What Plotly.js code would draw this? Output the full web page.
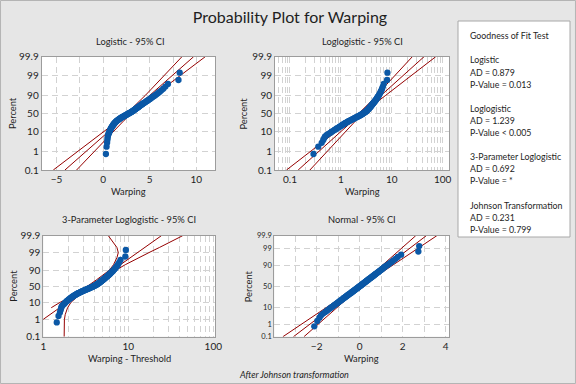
<!DOCTYPE html>
<html><head><meta charset="utf-8">
<script src="https://cdn.plot.ly/plotly-3.0.1.min.js"></script>
<style>html,body{margin:0;padding:0;background:#e6e6e6;}#chart{width:576px;height:384px;}</style>
</head><body><div id="chart"></div>
<script>
// ---- data ----
const warping = [0.29,0.36,0.42,0.45,0.47,0.49,0.53,0.58,0.63,0.66,
0.71,0.75,0.80,0.83,0.87,0.92,0.95,1.00,1.04,1.07,
1.11,1.16,1.19,1.24,1.28,1.33,1.37,1.42,1.47,1.52,
1.58,1.63,1.69,1.74,1.80,1.86,1.91,1.97,2.04,2.10,
2.17,2.23,2.29,2.36,2.42,2.48,2.55,2.61,2.67,2.73,
2.79,2.85,2.92,2.98,3.03,3.09,3.14,3.19,3.25,3.30,
3.35,3.40,3.45,3.50,3.55,3.61,3.66,3.71,3.77,3.83,
3.88,3.94,4.00,4.06,4.12,4.19,4.26,4.33,4.41,4.49,
4.57,4.65,4.74,4.83,4.92,5.02,5.12,5.23,5.35,5.48,
5.62,5.76,5.91,6.07,6.25,6.45,6.68,6.95,8.08,8.21];
const percent = [0.70,1.69,2.69,3.69,4.68,5.68,6.67,7.67,8.67,9.66,
10.66,11.65,12.65,13.65,14.64,15.64,16.63,17.63,18.63,19.62,
20.62,21.61,22.61,23.61,24.60,25.60,26.59,27.59,28.59,29.58,
30.58,31.57,32.57,33.57,34.56,35.56,36.55,37.55,38.55,39.54,
40.54,41.53,42.53,43.53,44.52,45.52,46.51,47.51,48.51,49.50,
50.50,51.49,52.49,53.49,54.48,55.48,56.47,57.47,58.47,59.46,
60.46,61.45,62.45,63.45,64.44,65.44,66.43,67.43,68.43,69.42,
70.42,71.41,72.41,73.41,74.40,75.40,76.39,77.39,78.39,79.38,
80.38,81.37,82.37,83.37,84.36,85.36,86.35,87.35,88.35,89.34,
90.34,91.33,92.33,93.33,94.32,95.32,96.31,97.31,98.31,99.30];
const threshold = -1.15;
const johnson = [-2.11,-1.97,-1.87,-1.80,-1.70,-1.60,-1.52,-1.45,-1.38,-1.32,
-1.26,-1.21,-1.16,-1.11,-1.06,-1.02,-0.98,-0.94,-0.90,-0.86,
-0.82,-0.79,-0.76,-0.73,-0.69,-0.66,-0.63,-0.60,-0.57,-0.54,
-0.51,-0.48,-0.45,-0.42,-0.39,-0.37,-0.34,-0.31,-0.29,-0.26,
-0.24,-0.21,-0.18,-0.16,-0.13,-0.11,-0.08,-0.06,-0.03,-0.01,
0.02,0.05,0.07,0.10,0.12,0.14,0.17,0.19,0.22,0.24,
0.27,0.30,0.32,0.34,0.37,0.40,0.43,0.45,0.48,0.51,
0.54,0.57,0.60,0.63,0.66,0.69,0.72,0.75,0.78,0.82,
0.86,0.89,0.93,0.97,1.01,1.05,1.09,1.13,1.18,1.24,
1.30,1.36,1.43,1.50,1.58,1.67,1.77,1.93,2.73,2.77];

// fitted line and 95% CI, at these percents
const ciPercent = [0.1,0.5,1,2,5,10,20,30,50,70,80,90,95,97,98,99,99.5,99.9];
const logisticFit   = [-4.106,-2.493,-1.795,-1.092,-0.144,0.603,1.414,1.953,2.8,3.647,4.186,4.997,5.744,6.276,6.692,7.395,8.093,9.706];
const logisticLower = [-5.356,-3.473,-2.655,-1.832,-0.734,0.133,1.054,1.653,2.54,3.347,3.826,4.527,5.154,5.606,5.952,6.535,7.113,8.456];
const logisticUpper = [-2.856,-1.513,-0.935,-0.352,0.446,1.073,1.774,2.253,3.06,3.947,4.546,5.467,6.334,6.946,7.432,8.255,9.073,10.956];
const loglogFit   = [0.145,0.2825,0.376,0.502,0.743,1.012,1.413,1.762,2.500,3.548,4.426,6.18,8.414,10.47,12.45,16.6,22.13,43.05];
const loglogLower = [0.0855,0.1866,0.260,0.364,0.577,0.822,1.216,1.560,2.254,3.141,3.811,5.023,6.531,7.852,9.016,11.48,14.62,25.35];
const loglogUpper = [0.2466,0.4276,0.5433,0.6934,0.9572,1.245,1.641,1.991,2.773,4.009,5.140,7.603,10.84,13.96,17.18,23.99,33.50,73.11];
const threeFit   = [0.514,0.807,0.982,1.194,1.556,1.918,2.41,2.80,3.55,4.50,5.23,6.56,8.09,9.38,10.5,12.8,15.6,24.5];
const threeLower = [null,null,null,null,1.24,1.58,2.2,2.6,3.3,4.2,4.85,6.0,6.7,7.05,7.35,7.62,7.35,5.82];
const threeUpper = [1.76,1.76,1.77,1.81,1.93,2.12,2.55,3.02,3.85,4.9,5.69,7.16,9.22,11.5,13.5,17.5,23.2,43.6];
const normalFit   = [-3.08,-2.566,-2.316,-2.044,-1.635,-1.272,-0.832,-0.514,0.01,0.534,0.852,1.292,1.655,1.891,2.064,2.336,2.586,3.10];
const normalLower = [-3.57,-2.976,-2.691,-2.384,-1.915,-1.507,-1.012,-0.669,-0.13,0.379,0.672,1.057,1.375,1.576,1.724,1.961,2.176,2.61];
const normalUpper = [-2.59,-2.156,-1.941,-1.704,-1.355,-1.037,-0.652,-0.359,0.15,0.689,1.032,1.527,1.935,2.206,2.404,2.711,2.996,3.59];

const tickPercents = [0.1,1,10,50,90,99,99.9];
const tickLabels = ['0.1','1','10','50','90','99','99.9'];
const gofLines = ['Goodness of Fit Test','','Logistic','AD = 0.879','P-Value = 0.013','',
 'Loglogistic','AD = 1.239','P-Value &lt; 0.005','','3-Parameter Loglogistic','AD = 0.692','P-Value = *','',
 'Johnson Transformation','AD = 0.231','P-Value = 0.799'];

// ---- probability scale transforms ----
function logit(pp){const p=pp/100;return Math.log(p/(1-p));}
function probit(pp){
 const p=pp/100;
 const a=[-3.969683028665376e+01,2.209460984245205e+02,-2.759285104469687e+02,1.383577518672690e+02,-3.066479806614716e+01,2.506628277459239e+00];
 const b=[-5.447609879822406e+01,1.615858368580409e+02,-1.556989798598866e+02,6.680131188771972e+01,-1.328068155288572e+01];
 const c=[-7.784894002430293e-03,-3.223964580411365e-01,-2.400758277161838e+00,-2.549732539343734e+00,4.374664141464968e+00,2.938163982698783e+00];
 const d=[7.784695709041462e-03,3.224671290700398e-01,2.445134137142996e+00,3.754408661907416e+00];
 const pl=0.02425;let q,r;
 if(p<pl){q=Math.sqrt(-2*Math.log(p));return (((((c[0]*q+c[1])*q+c[2])*q+c[3])*q+c[4])*q+c[5])/((((d[0]*q+d[1])*q+d[2])*q+d[3])*q+1);}
 if(p>1-pl){q=Math.sqrt(-2*Math.log(1-p));return -(((((c[0]*q+c[1])*q+c[2])*q+c[3])*q+c[4])*q+c[5])/((((d[0]*q+d[1])*q+d[2])*q+d[3])*q+1);}
 q=p-0.5;r=q*q;return (((((a[0]*r+a[1])*r+a[2])*r+a[3])*r+a[4])*r+a[5])*q/(((((b[0]*r+b[1])*r+b[2])*r+b[3])*r+b[4])*r+1);
}

const W=576,H=384;
const FONT='Lato, "Open Sans", sans-serif';
const TXT='#1e1e1e';
const RED='#950000';
const BLUE='#0b58a6';
const GRID='#d2d2d2';

function lines(xs, tf, xa, ya){
  const yv = ciPercent.map(tf);
  return xs.map(x=>({type:'scatter',mode:'lines',x:x,y:yv,xaxis:xa,yaxis:ya,
    line:{color:RED,width:1},hoverinfo:'skip',showlegend:false}));
}
function pts(x, tf, xa, ya){
  return {type:'scatter',mode:'markers',x:x,y:percent.map(tf),xaxis:xa,yaxis:ya,
    marker:{color:BLUE,size:6.3,line:{width:0}},showlegend:false};
}
const traces = [].concat(
  lines([logisticLower,logisticFit,logisticUpper],logit,'x','y'),
  [pts(warping,logit,'x','y')],
  lines([loglogLower,loglogFit,loglogUpper],logit,'x2','y2'),
  [pts(warping,logit,'x2','y2')],
  lines([threeLower,threeFit,threeUpper],logit,'x3','y3'),
  [pts(warping.map(v=>v-threshold),logit,'x3','y3')],
  lines([normalLower,normalFit,normalUpper],probit,'x4','y4'),
  [pts(johnson,probit,'x4','y4')]
);

function px(x){return x/W;} function py(y){return 1-y/H;}
const gridCommon = {showgrid:true,gridcolor:GRID,griddash:'6px,4px',gridwidth:1,zeroline:false,
  showline:true,mirror:true,linecolor:'#9c9c9c',linewidth:1,ticks:'',
  tickfont:{family:FONT,size:10,color:TXT},fixedrange:true};
function yax(domain, tf, anchor, fs){
  return Object.assign({},gridCommon,{domain:domain,anchor:anchor,
    range:[tf(0.1),tf(99.9)],tickmode:'array',tickvals:tickPercents.map(tf),ticktext:tickLabels,
    tickfont:{family:FONT,size:fs,color:TXT}});
}
const minorLin = d=>({dtick:d,showgrid:true,gridcolor:GRID,griddash:'6px,4px',ticks:''});
const minorLog = {dtick:'D1',showgrid:true,gridcolor:GRID,griddash:'6px,4px',ticks:''};

const layout = {
  width:W,height:H,margin:{l:0,r:0,t:0,b:0},
  paper_bgcolor:'#e6e6e6',plot_bgcolor:'#ffffff',showlegend:false,
  font:{family:FONT,color:TXT},
  title:{text:'Probability Plot for Warping',x:px(290),xanchor:'center',y:py(17),yanchor:'middle',
    font:{family:FONT,size:16,color:TXT}},
  xaxis: Object.assign({},gridCommon,{domain:[px(41.7),px(215)],anchor:'y',range:[-6.6,12],
    tick0:0,dtick:5,minor:minorLin(2.5)}),
  yaxis: yax([py(170),py(56.7)],logit,'x',10),
  xaxis2: Object.assign({},gridCommon,{domain:[px(275),px(449.3)],anchor:'y2',type:'log',range:[-1.294,2.13],
    tick0:0,dtick:1,minor:minorLog}),
  yaxis2: yax([py(170),py(56.7)],logit,'x2',10),
  xaxis3: Object.assign({},gridCommon,{domain:[px(43.3),px(215)],anchor:'y3',type:'log',range:[0,2.02],
    tick0:0,dtick:1,minor:minorLog}),
  yaxis3: yax([py(336.7),py(235.7)],logit,'x3',10),
  xaxis4: Object.assign({},gridCommon,{domain:[px(274.3),px(449.3)],anchor:'y4',range:[-3.97,4.17],
    tick0:0,dtick:2,minor:minorLin(1)}),
  yaxis4: yax([py(336.7),py(235.7)],probit,'x4',7.5),
  shapes:[
    {type:'rect',xref:'paper',yref:'paper',x0:px(458),x1:px(570),y0:py(237),y1:py(21),
     fillcolor:'#ffffff',line:{color:'#a8a8a8',width:1},layer:'below'},
    {type:'rect',xref:'paper',yref:'paper',x0:0.0009,x1:0.9991,y0:0.0013,y1:0.9987,
     fillcolor:'rgba(0,0,0,0)',line:{color:'#b4b4b4',width:1}}
  ],
  annotations:[]
};
function ann(text,x,y,o){
  layout.annotations.push(Object.assign({text:text,xref:'paper',yref:'paper',x:px(x),y:py(y),
    xanchor:'center',yanchor:'middle',showarrow:false,font:{family:FONT,size:9.3,color:TXT}},o||{}));
}
ann('Logistic - 95% CI',130,41);
ann('Loglogistic - 95% CI',362.5,41);
ann('3-Parameter Loglogistic - 95% CI',129,219);
ann('Normal - 95% CI',361.7,219);
ann('Warping',128.3,191.5);
ann('Warping',362,191.5);
ann('Warping - Threshold',129,358.3);
ann('Warping',361.7,358.3);
ann('Percent',12.7,113.3,{textangle:-90});
ann('Percent',243.3,113.3,{textangle:-90});
ann('Percent',12.7,286,{textangle:-90});
ann('Percent',248.3,286,{textangle:-90});
ann('<i>After Johnson transformation</i>',236.7,374,{xanchor:'left',font:{family:FONT,size:9,color:TXT}});
gofLines.forEach((t,i)=>{ if(t) ann(t,468,35.7+i*12.1,{xanchor:'left',font:{family:FONT,size:8.8,color:TXT}}); });

Plotly.newPlot('chart',traces,layout,{displayModeBar:false,staticPlot:true});
</script></body></html>
